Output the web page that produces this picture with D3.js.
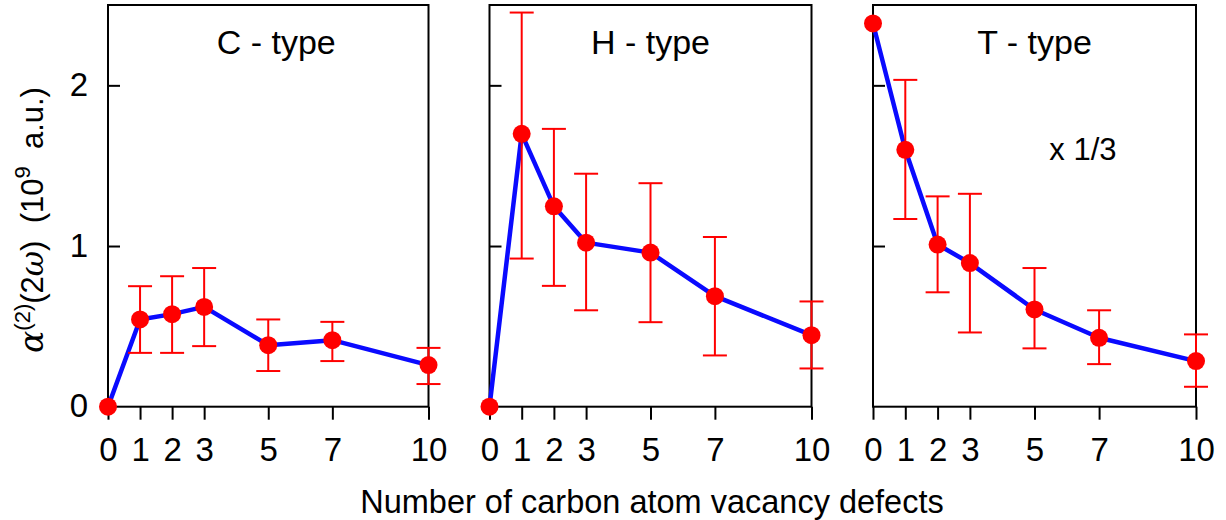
<!DOCTYPE html>
<html>
<head>
<meta charset="utf-8">
<script src="https://cdn.jsdelivr.net/npm/d3@7"></script>
<style>
  html, body { margin: 0; padding: 0; background: #fff; }
  svg text { font-family: "Liberation Sans", Arial, sans-serif; fill: #000; }
</style>
</head>
<body>
<svg id="chart" width="1226" height="520"></svg>
<script>
// ---- data ----
const defects = [0, 1, 2, 3, 5, 7, 10];
const xTickLabels = ["0", "1", "2", "3", "5", "7", "10"];
const yTicks = [0, 1, 2];
const panelTitles = ["C - type", "H - type", "T - type"];

const cValues = [0, 0.543, 0.576, 0.621, 0.383, 0.414, 0.259];
const cUpper  = [null, 0.750, 0.812, 0.863, 0.543, 0.528, 0.366];
const cLower  = [null, 0.335, 0.335, 0.377, 0.222, 0.284, 0.141];

const hValues = [0, 1.698, 1.247, 1.021, 0.959, 0.688, 0.445];
const hUpper  = [null, 2.453, 1.729, 1.450, 1.391, 1.056, 0.655];
const hLower  = [null, 0.922, 0.752, 0.600, 0.526, 0.319, 0.238];

const tValues = [2.385, 1.599, 1.009, 0.894, 0.605, 0.429, 0.284];
const tUpper  = [null, 2.034, 1.309, 1.325, 0.863, 0.600, 0.450];
const tLower  = [null, 1.168, 0.712, 0.462, 0.363, 0.265, 0.124];

const scaleNote = "x 1/3";

// ---- layout ----
const svg = d3.select("#chart");
const FONT = "Liberation Sans, Arial, sans-serif";
const yTop = 5, yBottom = 406.7;
const panelRanges = [[108, 428.5], [489.5, 811.5], [873, 1196]];
const series = [
  {values: cValues, upper: cUpper, lower: cLower},
  {values: hValues, upper: hUpper, lower: hLower},
  {values: tValues, upper: tUpper, lower: tLower}
];
const titleX = [5.25, 5, 5];

const y = d3.scaleLinear().domain([0, 2.5]).range([yBottom, yTop]);

series.forEach((s, i) => {
  const x = d3.scaleLinear().domain([0, 10]).range(panelRanges[i]);
  const g = svg.append("g");

  // frame
  g.append("rect")
    .attr("x", x(0)).attr("y", y(2.5))
    .attr("width", x(10) - x(0)).attr("height", y(0) - y(2.5))
    .attr("fill", "none").attr("stroke", "#000").attr("stroke-width", 2);

  // x axis (ticks outward)
  const xAxis = d3.axisBottom(x).tickValues(defects)
    .tickFormat((d, k) => xTickLabels[k]).tickSize(13).tickSizeOuter(0).tickPadding(18);
  const xg = g.append("g").attr("transform", `translate(0,${y(0)})`).call(xAxis);
  xg.select(".domain").remove();
  xg.selectAll(".tick line").attr("stroke", "#000").attr("stroke-width", 2);
  xg.selectAll(".tick text").attr("font-size", 33).attr("font-family", FONT).attr("fill", "#000");

  // y axis (ticks inward)
  const yAxis = d3.axisLeft(y).tickValues(yTicks.filter(v => v > 0))
    .tickFormat(i === 0 ? d3.format("d") : () => "").tickSize(-12).tickSizeOuter(0).tickPadding(20);
  const yg = g.append("g").attr("transform", `translate(${x(0)},0)`).call(yAxis);
  yg.select(".domain").remove();
  yg.selectAll(".tick line").attr("stroke", "#000").attr("stroke-width", 2);
  yg.selectAll(".tick text").attr("font-size", 33).attr("font-family", FONT).attr("fill", "#000");
  if (i === 0) {
    g.append("text").attr("x", x(0) - 20).attr("y", y(0)).attr("dy", "0.32em")
      .attr("text-anchor", "end").attr("font-size", 33).text(d3.format("d")(yTicks[0]));
  }

  // line
  const pts = defects.map((d, k) => ({x: d, v: s.values[k], hi: s.upper[k], lo: s.lower[k]}));
  g.append("path").datum(pts)
    .attr("d", d3.line().x(d => x(d.x)).y(d => y(d.v)))
    .attr("fill", "none").attr("stroke", "#0a0aff").attr("stroke-width", 4.5)
    .attr("stroke-linejoin", "round");

  // error bars
  const eb = pts.filter(d => d.hi !== null);
  const capW = 12;
  const ebg = g.append("g").attr("stroke", "#ff0000").attr("stroke-width", 2);
  ebg.selectAll("line.v").data(eb).join("line").attr("class", "v")
    .attr("x1", d => x(d.x)).attr("x2", d => x(d.x))
    .attr("y1", d => y(d.hi)).attr("y2", d => y(d.lo));
  ebg.selectAll("line.t").data(eb).join("line").attr("class", "t")
    .attr("x1", d => x(d.x) - capW).attr("x2", d => x(d.x) + capW)
    .attr("y1", d => y(d.hi)).attr("y2", d => y(d.hi));
  ebg.selectAll("line.b").data(eb).join("line").attr("class", "b")
    .attr("x1", d => x(d.x) - capW).attr("x2", d => x(d.x) + capW)
    .attr("y1", d => y(d.lo)).attr("y2", d => y(d.lo));

  // points
  g.selectAll("circle").data(pts).join("circle")
    .attr("cx", d => x(d.x)).attr("cy", d => y(d.v)).attr("r", 9)
    .attr("fill", "#ff0000");

  // title
  g.append("text").attr("x", x(titleX[i])).attr("y", 54)
    .attr("text-anchor", "middle").attr("font-size", 34).text(panelTitles[i]);

  if (i === 2) {
    g.append("text").attr("x", x(6.5)).attr("y", 160)
      .attr("text-anchor", "middle").attr("font-size", 31).text(scaleNote);
  }
});

// x-axis title
svg.append("text").attr("x", 652).attr("y", 513)
  .attr("text-anchor", "middle").attr("font-size", 32.5)
  .text("Number of carbon atom vacancy defects");

// y-axis title
const yl = svg.append("text")
  .attr("transform", "translate(43,220) rotate(-90)")
  .attr("text-anchor", "middle").attr("font-size", 31);
yl.append("tspan").attr("font-family", "DejaVu Serif, serif").attr("font-style", "italic").attr("font-size", 33).text("α");
yl.append("tspan").attr("font-size", 22).attr("dy", -13).text("(2)");
yl.append("tspan").attr("dy", 13).text("(2");
yl.append("tspan").attr("font-family", "DejaVu Serif, serif").attr("font-style", "italic").text("ω");
yl.append("tspan").text(")\u00a0\u00a0(10");
yl.append("tspan").attr("font-size", 22).attr("dy", -13).text("9");
yl.append("tspan").attr("dy", 13).text("\u00a0\u00a0a.u.)");
</script>
</body>
</html>
